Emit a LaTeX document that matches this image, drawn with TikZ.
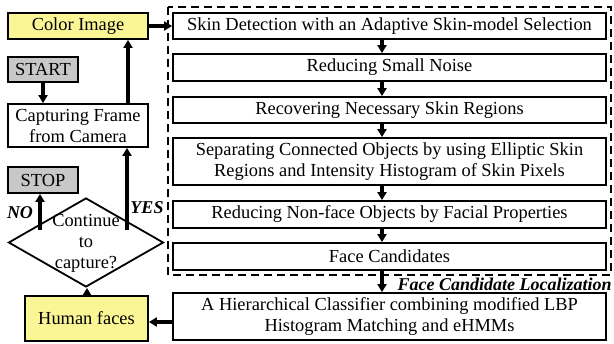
\documentclass[tikz,border=0pt]{standalone}
\usepackage{fontspec}
\newfontfamily\timesfont{Liberation Serif}
\usetikzlibrary{arrows.meta,shapes.geometric}
\definecolor{boxyellow}{RGB}{250,246,150}
\definecolor{boxgray}{RGB}{200,200,200}
\begin{document}
\begin{tikzpicture}[x=0.5pt,y=-0.5pt,
  font=\timesfont\fontsize{9.2}{10.5}\selectfont,
  box/.style={draw, line width=0.9pt, inner sep=0pt, align=center},
  arr/.style={line width=1.8pt, -{Triangle[length=4pt,width=4.5pt]}},
  lbl/.style={font=\timesfont\fontsize{9}{10.5}\selectfont\bfseries\itshape, inner sep=0pt}]
\useasboundingbox (0,0) rectangle (614,343);

% left column: capture loop
\node[box, fill=boxyellow, minimum width=70pt, minimum height=13pt] (color) at (78,26) {Color Image};
\node[box, fill=boxgray, minimum width=35pt, minimum height=12.5pt] (start) at (43,69.5) {START};
\node[box, minimum width=70pt, minimum height=21.5pt] (capt) at (78,125.5) {Capturing Frame\\from Camera};
\node[box, fill=boxgray, minimum width=35pt, minimum height=13pt] (stop) at (43,180) {STOP};
\node[draw, line width=0.9pt, diamond, inner sep=0pt, minimum width=77.5pt, minimum height=44.5pt] (dec) at (86,242.5) {};
\node[align=center, inner sep=0pt] (dectext) at (86,243) {Continue\\to\\capture?};
\node[box, fill=boxyellow, minimum width=61.5pt, minimum height=22.5pt] (human) at (86.5,318.5) {Human faces};

% right column: face candidate localization steps
\node[box, minimum width=216.5pt, minimum height=13pt] (skin) at (389.5,26) {Skin Detection with an Adaptive Skin-model Selection};
\node[box, minimum width=216.5pt, minimum height=13.5pt] (noise) at (389.5,67.5) {Reducing Small Noise};
\node[box, minimum width=216.5pt, minimum height=13pt] (recov) at (389.5,110) {Recovering Necessary Skin Regions};
\node[box, minimum width=216.5pt, minimum height=23.5pt] (separ) at (389.5,161.5) {Separating Connected Objects by using Elliptic Skin\\Regions and Intensity Histogram of Skin Pixels};
\node[box, minimum width=216.5pt, minimum height=13.5pt] (nonface) at (389.5,214.5) {Reducing Non-face Objects by Facial Properties};
\node[box, minimum width=216.5pt, minimum height=13.5pt] (cand) at (389.5,256.5) {Face Candidates};
\node[box, minimum width=216.5pt, minimum height=23.5pt] (hier) at (389.5,316.5) {A Hierarchical Classifier combining modified LBP\\Histogram Matching and eHMMs};

% dashed frame around the localization stage
\draw[line width=0.9pt, dash pattern=on 4pt off 2.5pt] (168,7) rectangle (611,275);
\node[lbl, anchor=east] (loclbl) at (612,284) {Face Candidate Localization};

% helper coordinates
\coordinate (ax) at (382,0);
\coordinate (upx) at (128,0);
\coordinate (nofrom) at (40,230);
\coordinate (yesfrom) at (127,230);
\coordinate (hx) at (87,0);
\coordinate (hy) at (0,322);

% connectors
\draw[arr] (color.east) -- (skin.west);
\draw[arr] (skin.south -| ax) -- (noise.north -| ax);
\draw[arr] (noise.south -| ax) -- (recov.north -| ax);
\draw[arr] (recov.south -| ax) -- (separ.north -| ax);
\draw[arr] (separ.south -| ax) -- (nonface.north -| ax);
\draw[arr] (nonface.south -| ax) -- (cand.north -| ax);
\draw[arr] (cand.south -| ax) -- (hier.north -| ax);
\draw[arr] (hier.west |- hy) -- (human.east |- hy);
\draw[arr] (human.north -| hx) -- (dec.south -| hx);
\draw[arr] (yesfrom) -- (capt.south -| yesfrom);
\draw[arr] (nofrom) -- (stop.south -| nofrom);
\draw[arr] (start.south) -- (capt.north -| start.south);
\draw[arr] (capt.north -| upx) -- (color.south -| upx);

\node[lbl] (nolbl) at (20,213) {NO};
\node[lbl] (yeslbl) at (147,208) {YES};
\end{tikzpicture}
\end{document}
